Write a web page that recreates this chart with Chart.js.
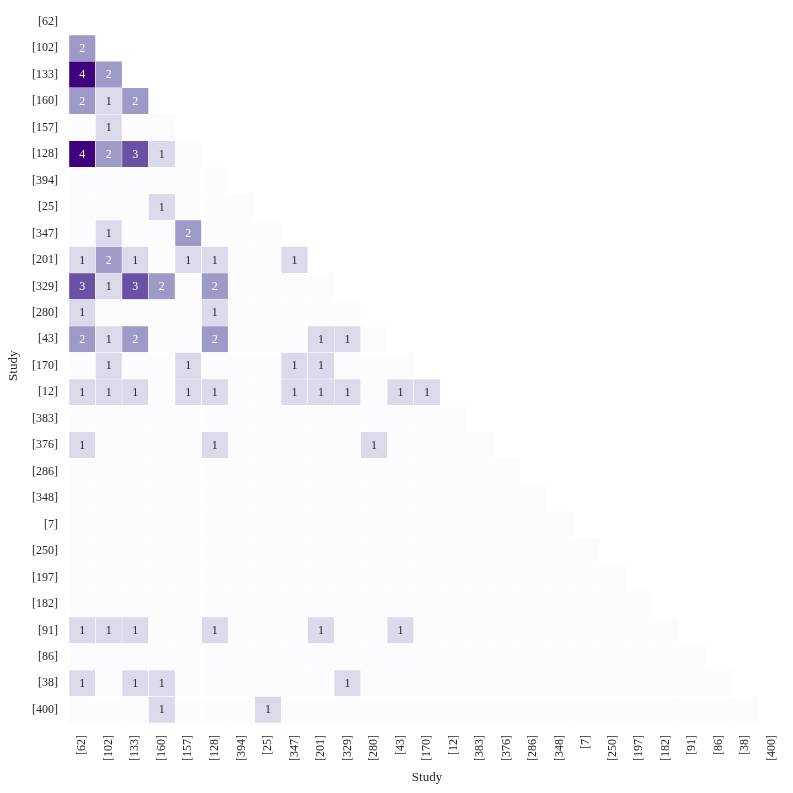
<!DOCTYPE html>
<html>
<head>
<meta charset="utf-8">
<script src="https://cdn.jsdelivr.net/npm/chart.js@4/dist/chart.umd.min.js"></script>
<style>
  html, body { margin: 0; padding: 0; background: #ffffff; }
  canvas { display: block; }
</style>
</head>
<body>
<canvas id="c" width="793" height="793"></canvas>
<script>
// Study labels (same order for rows and columns)
const studies = ['[62]','[102]','[133]','[160]','[157]','[128]','[394]','[25]','[347]','[201]','[329]','[280]','[43]','[170]','[12]','[383]','[376]','[286]','[348]','[7]','[250]','[197]','[182]','[91]','[86]','[38]','[400]'];

// Lower-triangle co-occurrence counts: row r has entries for columns 0..r-1
const counts = [
  [],
  [2],
  [4,2],
  [2,1,2],
  [0,1,0,0],
  [4,2,3,1,0],
  [0,0,0,0,0,0],
  [0,0,0,1,0,0,0],
  [0,1,0,0,2,0,0,0],
  [1,2,1,0,1,1,0,0,1],
  [3,1,3,2,0,2,0,0,0,0],
  [1,0,0,0,0,1,0,0,0,0,0],
  [2,1,2,0,0,2,0,0,0,1,1,0],
  [0,1,0,0,1,0,0,0,1,1,0,0,0],
  [1,1,1,0,1,1,0,0,1,1,1,0,1,1],
  [0,0,0,0,0,0,0,0,0,0,0,0,0,0,0],
  [1,0,0,0,0,1,0,0,0,0,0,1,0,0,0,0],
  [0,0,0,0,0,0,0,0,0,0,0,0,0,0,0,0,0],
  [0,0,0,0,0,0,0,0,0,0,0,0,0,0,0,0,0,0],
  [0,0,0,0,0,0,0,0,0,0,0,0,0,0,0,0,0,0,0],
  [0,0,0,0,0,0,0,0,0,0,0,0,0,0,0,0,0,0,0,0],
  [0,0,0,0,0,0,0,0,0,0,0,0,0,0,0,0,0,0,0,0,0],
  [0,0,0,0,0,0,0,0,0,0,0,0,0,0,0,0,0,0,0,0,0,0],
  [1,1,1,0,0,1,0,0,0,1,0,0,1,0,0,0,0,0,0,0,0,0,0],
  [0,0,0,0,0,0,0,0,0,0,0,0,0,0,0,0,0,0,0,0,0,0,0,0],
  [1,0,1,1,0,0,0,0,0,0,1,0,0,0,0,0,0,0,0,0,0,0,0,0,0],
  [0,0,0,1,0,0,0,1,0,0,0,0,0,0,0,0,0,0,0,0,0,0,0,0,0,0]
];

// Purples colour scale for values 0..4
const levelColors = ['#fcfbfd', '#dadaeb', '#9e9ac8', '#6a51a3', '#3f007d'];

const cells = [];
counts.forEach((row, r) => {
  row.forEach((v, c) => {
    cells.push({ x: studies[c], y: [r - 0.5, r + 0.5], v: v });
  });
});

const FONT = "'Liberation Serif', 'DejaVu Serif', serif";

const valueLabels = {
  id: 'valueLabels',
  afterDatasetsDraw(chart) {
    const ctx = chart.ctx;
    const meta = chart.getDatasetMeta(0);
    const ds = chart.data.datasets[0];
    ctx.save();
    ctx.font = "12px " + FONT;
    ctx.textAlign = 'center';
    ctx.textBaseline = 'middle';
    meta.data.forEach((bar, i) => {
      const d = ds.data[i];
      if (!d.v) return;
      const p = bar.getProps(['x', 'y', 'base'], true);
      ctx.fillStyle = d.v >= 2 ? '#ffffff' : '#262626';
      ctx.fillText(String(d.v), p.x, (p.y + p.base) / 2 + 0.5);
    });
    ctx.restore();
  }
};

new Chart(document.getElementById('c'), {
  type: 'bar',
  data: {
    labels: studies,
    datasets: [{
      data: cells,
      backgroundColor: (ctx) => ctx.raw ? levelColors[ctx.raw.v] : levelColors[0],
      borderColor: '#ffffff',
      borderWidth: 0.5,
      borderSkipped: false,
      barPercentage: 1,
      categoryPercentage: 1
    }]
  },
  options: {
    responsive: false,
    animation: false,
    events: [],
    layout: { padding: { left: 0, top: 8.5, right: 8, bottom: 0 } },
    plugins: { legend: { display: false }, tooltip: { enabled: false } },
    scales: {
      x: {
        type: 'category',
        offset: true,
        grid: { display: false, drawTicks: false },
        border: { display: false },
        ticks: {
          autoSkip: false, maxRotation: 90, minRotation: 90, padding: 12,
          color: '#262626', font: { family: FONT, size: 12 }
        },
        title: { display: true, text: 'Study', color: '#262626',
                 font: { family: FONT, size: 13 }, padding: { top: 0, bottom: 8 } },
        afterFit: (s) => { s.height = 70; s.paddingLeft = 0; s.paddingRight = 0; }
      },
      y: {
        type: 'linear',
        reverse: true,
        min: -0.5,
        max: 26.5,
        grid: { display: false, drawTicks: false },
        border: { display: false },
        afterBuildTicks: (s) => { s.ticks = studies.map((_, i) => ({ value: i })); },
        ticks: {
          padding: 11, color: '#262626', font: { family: FONT, size: 12 },
          callback: (v) => studies[v]
        },
        title: { display: true, text: 'Study', color: '#262626',
                 font: { family: FONT, size: 13 }, padding: { top: 6, bottom: 0 } },
        afterFit: (s) => { s.width = 69; s.paddingTop = 0; s.paddingBottom = 0; }
      }
    }
  },
  plugins: [valueLabels]
});
</script>
</body>
</html>
